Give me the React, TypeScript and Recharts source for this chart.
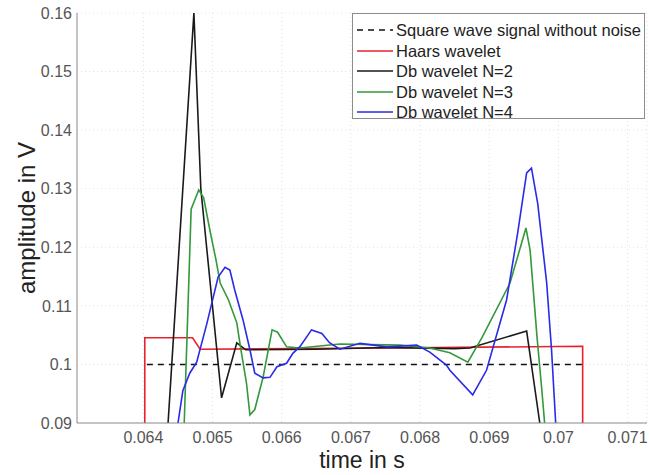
import React from 'react';
import { LineChart, Line, XAxis, YAxis, CartesianGrid, Legend, Label } from 'recharts';

// axis ticks
const xTicks = [0.064, 0.065, 0.066, 0.067, 0.068, 0.069, 0.07, 0.071];
const yTicks = [0.09, 0.1, 0.11, 0.12, 0.13, 0.14, 0.15, 0.16];
const xDomain = [0.06304, 0.07128];
const yDomain = [0.09, 0.16];

// square wave without noise
const squareT = [0.06405, 0.07035];
const squareV = [0.1, 0.1];

// Haar wavelet
const haarT = [0.06402, 0.06402, 0.06471, 0.06482, 0.0675, 0.07035, 0.07035];
const haarV = [0.085, 0.10456, 0.10456, 0.1026, 0.1028, 0.1031, 0.085];

// Db N=2
const db2T = [0.06433, 0.06473, 0.06483, 0.06513, 0.06535, 0.06548, 0.0665, 0.0675, 0.0685, 0.06872, 0.06954, 0.06973, 0.06977];
const db2V = [0.085, 0.16, 0.13, 0.0943, 0.1037, 0.1025, 0.1026, 0.1029, 0.1027, 0.1028, 0.1057, 0.09, 0.085];

// Db N=3
const db3T = [
  0.06455, 0.06459, 0.06469, 0.0648, 0.06487, 0.06497, 0.06505, 0.06511, 0.06523, 0.06535, 0.06541,
  0.06549, 0.06554, 0.06561, 0.06573, 0.06586, 0.06594, 0.06607, 0.06626, 0.06684, 0.06771, 0.06814,
  0.06843, 0.06869, 0.0689, 0.0693, 0.06953, 0.06959, 0.06969, 0.06976, 0.0698, 0.06983,
];
const db3V = [
  0.085, 0.09, 0.1265, 0.1298, 0.1285, 0.1224, 0.1178, 0.1139, 0.111, 0.1071, 0.1025,
  0.0968, 0.0914, 0.0923, 0.0978, 0.1059, 0.1055, 0.103, 0.1028, 0.1035, 0.1033, 0.1028,
  0.102, 0.1004, 0.1047, 0.1139, 0.1233, 0.1195, 0.1047, 0.0956, 0.09, 0.085,
];

// Db N=4
const db4T = [
  0.06445, 0.0645, 0.06457, 0.06467, 0.06477, 0.06492, 0.06508, 0.06518, 0.06525, 0.06532, 0.06544,
  0.06554, 0.06561, 0.06573, 0.06583, 0.06593, 0.06607, 0.06616, 0.06626, 0.06643, 0.06658, 0.06669,
  0.06684, 0.06713, 0.06752, 0.06795, 0.06814, 0.06838, 0.06843, 0.06876, 0.06896, 0.06925, 0.06941,
  0.06954, 0.06961, 0.0697, 0.06983, 0.0699, 0.06996, 0.06999,
];
const db4V = [
  0.085, 0.09, 0.0955, 0.0985, 0.1004, 0.1071, 0.1149, 0.1166, 0.1161, 0.1127, 0.1076,
  0.1025, 0.0985, 0.0977, 0.0978, 0.0996, 0.1002, 0.1019, 0.103, 0.1059, 0.1053, 0.1037,
  0.1026, 0.1036, 0.103, 0.1033, 0.1021, 0.0999, 0.099, 0.0948, 0.099, 0.111, 0.1224,
  0.1327, 0.1335, 0.1275, 0.1139, 0.1025, 0.09, 0.085,
];

const zip = (t: number[], v: number[]) => t.map((x, i) => ({ t: x, v: v[i] }));

const series = [
  { name: 'Square wave signal without noise', data: zip(squareT, squareV), color: '#111111', dash: '6 5' },
  { name: 'Haars wavelet', data: zip(haarT, haarV), color: '#e8222c', dash: undefined },
  { name: 'Db wavelet N=2', data: zip(db2T, db2V), color: '#1a1a1a', dash: undefined },
  { name: 'Db wavelet N=3', data: zip(db3T, db3V), color: '#33993a', dash: undefined },
  { name: 'Db wavelet N=4', data: zip(db4T, db4V), color: '#2a2ae8', dash: undefined },
];

const font = '"Liberation Sans", Arial, sans-serif';
const frame = '#8c8c8c';
const fmt = (v: number) => String(parseFloat(v.toFixed(3)));

const LegendBox = () => (
  <div
    style={{
      width: 291,
      height: 98,
      paddingTop: 6,
      border: `1px solid ${frame}`,
      background: '#fff',
      fontFamily: font,
      fontSize: 16.5,
      color: '#222',
    }}
  >
    {series.map(s => (
      <div key={s.name} style={{ display: 'flex', alignItems: 'center', height: 20.5 }}>
        <svg width={42} height={10} style={{ flex: 'none' }}>
          <line x1={4} x2={40} y1={5} y2={5} stroke={s.color} strokeWidth={1.6} strokeDasharray={s.dash} />
        </svg>
        <span style={{ marginLeft: 1, whiteSpace: 'nowrap', lineHeight: '20px' }}>{s.name}</span>
      </div>
    ))}
  </div>
);

const App: React.FC = () => {
  return (
    <div style={{ position: 'absolute', left: 0, top: 0, width: 649, height: 475, background: '#fff' }}>
      <LineChart width={649} height={475} margin={{ top: 13, right: 2, left: 0, bottom: 0 }}>
        <CartesianGrid stroke="#e2e2e2" strokeDasharray="1 3" />
        <XAxis
          dataKey="t"
          type="number"
          domain={xDomain}
          ticks={xTicks}
          tickFormatter={fmt}
          allowDataOverflow
          height={52}
          tickSize={0}
          tickMargin={9}
          tickLine={false}
          axisLine={{ stroke: frame }}
          tick={{ fill: '#555', fontSize: 16, fontFamily: font }}
        >
          <Label
            content={({ viewBox }: any) => (
              <text
                x={viewBox.x + viewBox.width / 2}
                y={viewBox.y + 37}
                textAnchor="middle"
                dominantBaseline="central"
                fontSize={23}
                fontFamily={font}
                fill="#222"
              >
                time in s
              </text>
            )}
          />
        </XAxis>
        <YAxis
          type="number"
          domain={yDomain}
          ticks={yTicks}
          tickFormatter={fmt}
          allowDataOverflow
          width={77}
          tickSize={0}
          tickMargin={5}
          tickLine={false}
          axisLine={{ stroke: frame }}
          tick={{ fill: '#555', fontSize: 16, fontFamily: font }}
        >
          <Label
            content={({ viewBox }: any) => {
              const cx = viewBox.x + 26;
              const cy = viewBox.y + viewBox.height / 2;
              return (
                <text
                  x={cx}
                  y={cy}
                  transform={`rotate(-90 ${cx} ${cy})`}
                  textAnchor="middle"
                  dominantBaseline="central"
                  fontSize={24}
                  fontFamily={font}
                  fill="#222"
                >
                  amplitude in V
                </text>
              );
            }}
          />
        </YAxis>
        {/* box around the plot */}
        <XAxis xAxisId="top" orientation="top" type="number" domain={xDomain} allowDataOverflow height={0} tick={false} tickLine={false} axisLine={{ stroke: frame }} />
        <YAxis yAxisId="right" orientation="right" type="number" domain={yDomain} allowDataOverflow width={0} tick={false} tickLine={false} axisLine={{ stroke: frame }} />
        {series.map(s => (
          <Line
            key={s.name}
            data={s.data}
            dataKey="v"
            name={s.name}
            type="linear"
            stroke={s.color}
            strokeWidth={1.6}
            strokeDasharray={s.dash}
            dot={false}
            activeDot={false}
            isAnimationActive={false}
          />
        ))}
        <Legend
          layout="horizontal"
          verticalAlign="middle"
          align="center"
          wrapperStyle={{ left: 352, top: 13, width: 293, height: 106 }}
          content={() => <LegendBox />}
        />
      </LineChart>
    </div>
  );
};

export default App;
